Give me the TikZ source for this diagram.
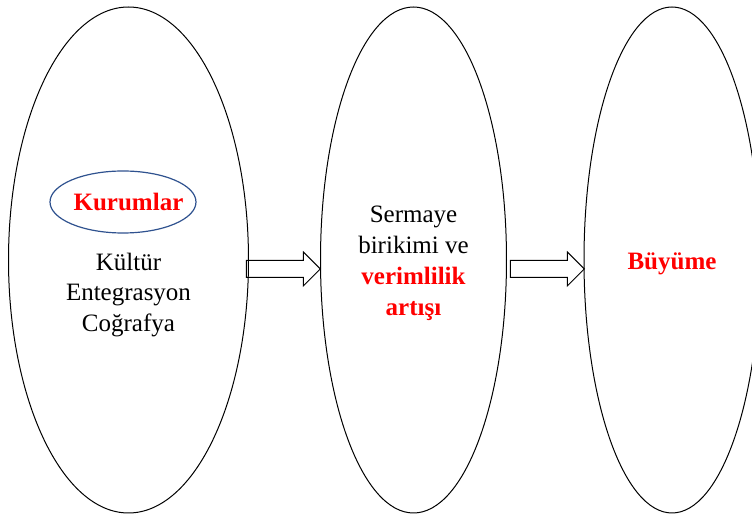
\documentclass[tikz,border=0pt]{standalone}
\usepackage{fontspec}
\setmainfont{Liberation Serif}
\usepackage{tikz}
\usetikzlibrary{shapes.geometric,shapes.arrows}
\definecolor{kurumblue}{RGB}{47,82,143}
\begin{document}
\begin{tikzpicture}[x=0.5pt,y=-0.5pt,
                    stage/.style={ellipse, draw=black, line width=0.5pt, minimum height=253pt, inner sep=0pt},
                    inner/.style={ellipse, draw=kurumblue, line width=0.6pt, minimum width=73pt, minimum height=31pt, inner sep=0pt},
                    words/.style={align=center, inner sep=0pt, font=\fontsize{12.5}{15.4}\selectfont},
                    redwords/.style={words, text=red, font=\fontsize{12.5}{15.4}\selectfont\bfseries},
                    blockarrow/.style={single arrow, draw=black, line width=0.5pt, inner xsep=0pt, inner ysep=4pt, minimum height=37pt, single arrow head extend=4.25pt, anchor=tip}]
        \clip (0,0) rectangle (752,518);
        \useasboundingbox (0,0) rectangle (752,518);
        \node (Faktorler) [stage, minimum width=120pt] at (128.5,260) {};
        \node (Birikim) [stage, minimum width=93pt] at (413.5,260) {};
        \node (Buyume) [stage, minimum width=88pt] at (672,260) {};
        \node (Kurumlar) [inner] at (123,202) {};
        \node (KurumlarYazi) [redwords] at (128.5,202) {Kurumlar};
        \node (Digerleri) [words] at (128.5,295) {Kültür\\Entegrasyon\\Coğrafya};
        \node (BirikimYazi) [words] at (413.5,263.5) {Sermaye\\birikimi ve\\{\bfseries\color{red}verimlilik}\\{\bfseries\color{red}artışı}};
        \node (BuyumeYazi) [redwords] at (672,264) {Büyüme};
        \node (Ok1) [blockarrow] at (321,269) {};
        \node (Ok2) [blockarrow] at (585,269) {};
\end{tikzpicture}
\end{document}
